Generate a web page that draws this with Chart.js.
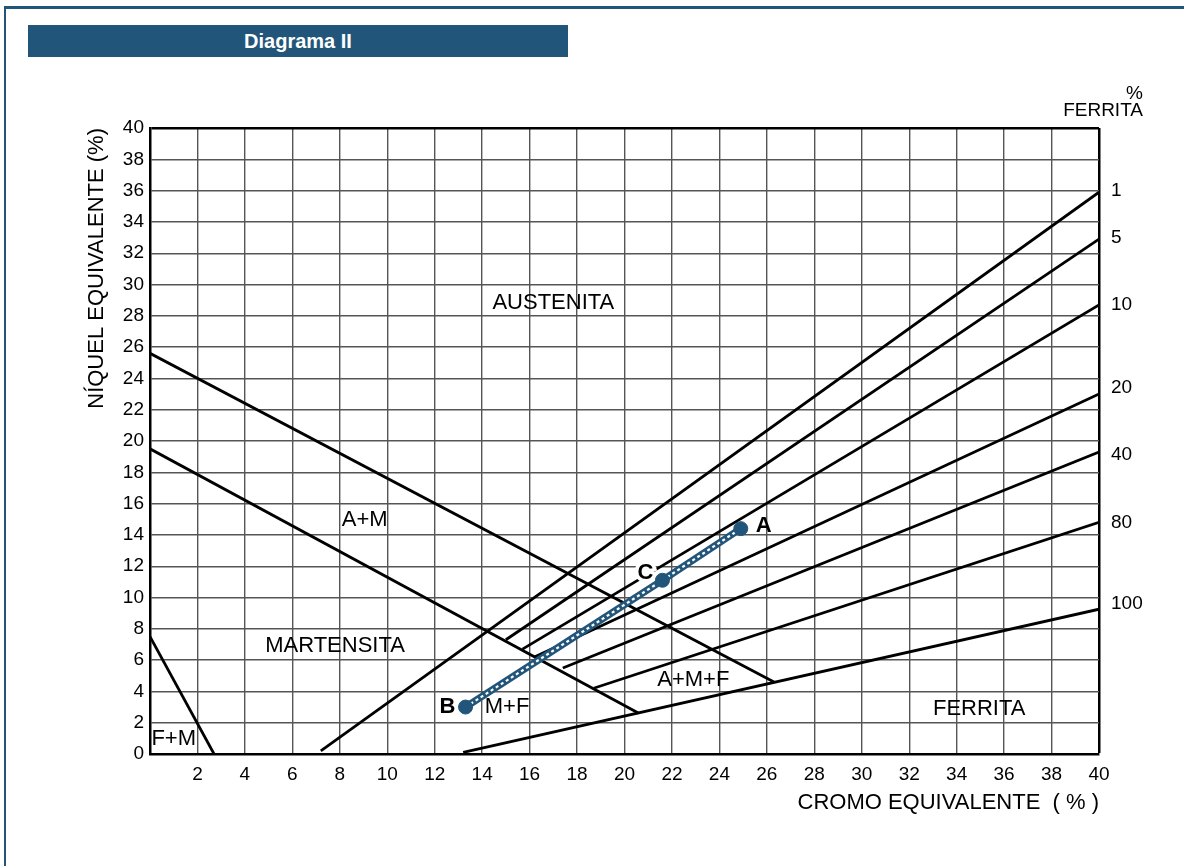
<!DOCTYPE html>
<html>
<head>
<meta charset="utf-8">
<script src="https://cdn.jsdelivr.net/npm/chart.js@4"></script>
<style>
  html, body { margin: 0; padding: 0; background: #fff; }
  #frame {
    position: absolute; left: 4px; top: 6px; width: 1180px; height: 858px;
    border-left: 2px solid #22557a; border-top: 3px solid #22557a;
    border-bottom: 1px solid #ddd;
  }
  #bar {
    position: absolute; left: 28px; top: 25px; width: 540px; height: 32px;
    background: #22557a; color: #fff; text-align: center;
    font: bold 20px "Liberation Sans", Arial, sans-serif; line-height: 32px;
  }
  #wrap { position: absolute; left: 0; top: 0; width: 1184px; height: 866px; }
</style>
</head>
<body>
<div id="frame"></div>
<div id="bar">Diagrama II</div>
<div id="wrap"><canvas id="schaeffler" width="1184" height="866"></canvas></div>
<script>
// linhas do diagrama: [Cr eq, Ni eq]
const fmLine = [[0, 7.5], [2.7, 0]];
const martUpper = [[0, 25.6], [26.3, 4.6]];
const martLower = [[0, 19.5], [20.6, 2.6]];

// linhas de % ferrita
const ferritaPct = ["1", "5", "10", "20", "40", "80", "100"];
const ferritaStart = [[7.2, 0.2], [15.0, 7.3], [15.7, 6.7], [16.2, 6.2], [17.4, 5.5], [18.7, 4.2], [13.2, 0.1]];
const ferritaEnd = [[40, 35.9], [40, 32.9], [40, 28.7], [40, 23.0], [40, 19.3], [40, 14.8], [40, 9.25]];
const ferritaLabelNi = [36.0, 33.0, 28.7, 23.4, 19.1, 14.8, 9.6];

// pontos B - C - A
const pontos = ["B", "C", "A"];
const pontosCr = [13.3, 21.6, 24.9];
const pontosNi = [3.0, 11.1, 14.4];

// nomes das regioes
const regioes = ["AUSTENITA", "A+M", "MARTENSITA", "F+M", "M+F", "A+M+F", "FERRITA"];
const regioesCr = [17.0, 9.05, 7.8, 1.0, 15.05, 22.9, 34.95];
const regioesNi = [28.8, 14.95, 6.9, 0.95, 3.0, 4.75, 2.9];

const FONT = '"Liberation Sans", Arial, Helvetica, sans-serif';

const toXY = (pts) => pts.map((p) => ({ x: p[0], y: p[1] }));

const blackLine = (pts) => ({
  data: toXY(pts),
  borderColor: "#000",
  borderWidth: 2.8,
  pointRadius: 0,
  order: 5,
});

let datasets = [blackLine(fmLine), blackLine(martUpper), blackLine(martLower)];
ferritaStart.forEach((s, i) => {
  datasets.push(blackLine([s, ferritaEnd[i]]));
});

const caminho = pontosCr.map((x, i) => ({ x: x, y: pontosNi[i] }));

datasets.push({
  data: caminho,
  borderColor: "#22557a",
  borderWidth: 7,
  pointRadius: 0,
  order: 3,
});
datasets.push({
  data: caminho,
  borderColor: "#ffffff",
  borderWidth: 2.2,
  borderDash: [3, 3],
  pointRadius: 0,
  order: 2,
});
datasets.push({
  data: caminho,
  showLine: false,
  pointRadius: 7,
  pointBackgroundColor: "#22557a",
  pointBorderColor: "#22557a",
  order: 1,
});

const textos = {
  id: "textos",
  afterDatasetsDraw(chart) {
    const { ctx, chartArea } = chart;
    const sx = chart.scales.x;
    const sy = chart.scales.y;
    ctx.save();
    ctx.fillStyle = "#000";
    ctx.textBaseline = "middle";

    ctx.font = "22px " + FONT;
    ctx.textAlign = "center";
    regioes.forEach((r, i) => {
      ctx.fillText(r, sx.getPixelForValue(regioesCr[i]), sy.getPixelForValue(regioesNi[i]));
    });

    ctx.font = "19px " + FONT;
    ctx.textAlign = "left";
    ferritaPct.forEach((p, i) => {
      ctx.fillText(p, chartArea.right + 12, sy.getPixelForValue(ferritaLabelNi[i]));
    });

    ctx.textAlign = "right";
    ctx.fillText("%", chartArea.right + 44, chartArea.top - 34);
    ctx.fillText("FERRITA", chartArea.right + 44, chartArea.top - 17);

    ctx.font = "bold 22px " + FONT;
    ctx.textAlign = "center";
    const offs = { B: [-18, 0], C: [-17, -7], A: [23, -3] };
    pontos.forEach((p, i) => {
      const px = sx.getPixelForValue(pontosCr[i]) + offs[p][0];
      const py = sy.getPixelForValue(pontosNi[i]) + offs[p][1];
      if (p === "C") {
        ctx.strokeStyle = "#fff";
        ctx.lineWidth = 7;
        ctx.strokeText(p, px, py);
      }
      ctx.fillText(p, px, py);
    });
    ctx.restore();
  },
};

const gridColor = (c) => (c.tick && c.tick.value === 40 ? "#000" : "#555");
const gridWidth = (c) => (c.tick && c.tick.value === 40 ? 2.5 : 1.4);

new Chart(document.getElementById("schaeffler"), {
  type: "line",
  data: { datasets: datasets },
  options: {
    responsive: false,
    animation: false,
    layout: { padding: { left: 0, top: 128, right: 85, bottom: 0 } },
    plugins: { legend: { display: false }, tooltip: { enabled: false } },
    scales: {
      x: {
        type: "linear",
        min: 0,
        max: 40,
        afterFit: (s) => { s.height = 112; },
        ticks: {
          stepSize: 2,
          color: "#000",
          padding: 9,
          maxRotation: 0,
          font: { family: FONT, size: 19 },
          callback: (v) => (v === 0 ? "" : v),
        },
        grid: { color: gridColor, lineWidth: gridWidth, drawTicks: false },
        border: { color: "#000", width: 2.5 },
        title: {
          display: true,
          text: "CROMO EQUIVALENTE  ( % )",
          align: "end",
          color: "#000",
          font: { family: FONT, size: 22 },
          padding: { top: 0, bottom: 50 },
        },
      },
      y: {
        type: "linear",
        min: 0,
        max: 40,
        afterFit: (s) => { s.width = 150; },
        ticks: {
          stepSize: 2,
          color: "#000",
          padding: 6,
          font: { family: FONT, size: 19 },
        },
        grid: { color: gridColor, lineWidth: gridWidth, drawTicks: false },
        border: { color: "#000", width: 2.5 },
        title: {
          display: true,
          text: "NÍQUEL EQUIVALENTE (%)",
          align: "end",
          color: "#000",
          font: { family: FONT, size: 22 },
          padding: { top: 84, bottom: 0 },
        },
      },
    },
  },
  plugins: [textos],
});
</script>
</body>
</html>
